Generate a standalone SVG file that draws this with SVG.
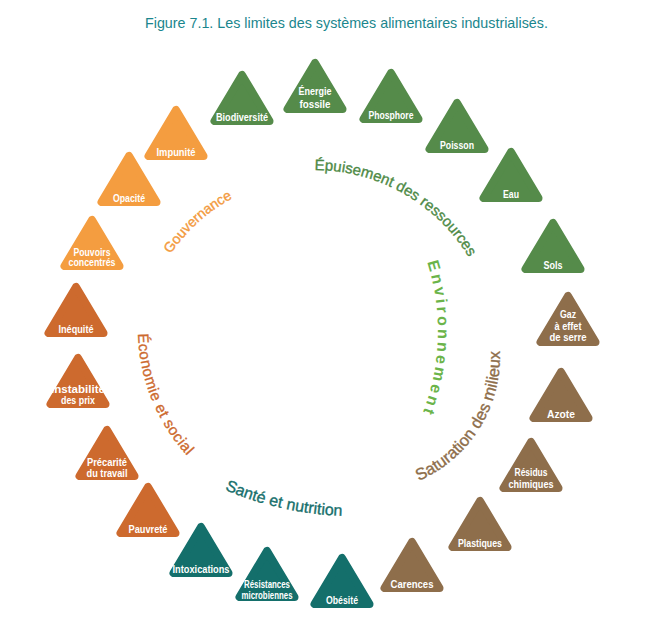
<svg xmlns="http://www.w3.org/2000/svg" width="649" height="631" viewBox="0 0 649 631">
<style>
.gov{fill:#F49D40;stroke:#F49D40}
.eco{fill:#CD6A2E;stroke:#CD6A2E}
.san{fill:#146F6B;stroke:#146F6B}
.env{fill:#558B4A;stroke:#558B4A}
.sat{fill:#8E6E4B;stroke:#8E6E4B}
.lbl{font-family:"Liberation Sans",Arial,sans-serif;font-weight:bold;font-size:11px;fill:#FFFFFF;text-anchor:middle}
.cat{font-family:"Liberation Sans",Arial,sans-serif;text-anchor:middle;stroke-width:0.35}
.title{font-family:"Liberation Sans",Arial,sans-serif;font-size:14.3px;fill:#1A868D}
</style>
<defs>
<polygon id="tri" points="0,5 -27.5,51 27.5,51" stroke-width="8" stroke-linejoin="round"/>
<path id="pGov" d="M151.4,291.8 A173,173 0 0 1 272.1,183.1"/>
<path id="pEpu" d="M281,173 A181,181 0 0 1 483.5,287.6"/>
<path id="pEco" d="M147.2,270.9 A188,188 0 0 0 237.7,495"/>
<path id="pSan" d="M202,479 A327,327 0 0 0 367.3,515.7"/>
<path id="pSat" d="M383.8,490.7 A135,135 0 0 0 493.4,315.3"/>
<path id="pEnv" d="M411.5,224.9 A226,226 0 0 1 403.7,450.8"/>
</defs>
<rect width="649" height="631" fill="#FFFFFF"/>
<text class="title" x="145" y="28">Figure 7.1. Les limites des systèmes alimentaires industrialisés.</text>

<g id="categories">
<text class="cat" font-size="14" fill="#F39A3D" stroke="#F39A3D"><textPath href="#pGov" startOffset="50%">Gouvernance</textPath></text>
<text class="cat" font-size="15" fill="#4E8A46" stroke="#4E8A46"><textPath href="#pEpu" startOffset="50%">Épuisement des ressources</textPath></text>
<text class="cat" font-size="15" fill="#CD6A2E" stroke="#CD6A2E" letter-spacing="0.5"><textPath href="#pEco" startOffset="50%">Économie et social</textPath></text>
<text class="cat" font-size="16" fill="#17706C" stroke="#17706C"><textPath href="#pSan" startOffset="50%">Santé et nutrition</textPath></text>
<text class="cat" font-size="16.5" fill="#8E6E4B" stroke="#8E6E4B"><textPath href="#pSat" startOffset="50%">Saturation des milieux</textPath></text>
<text class="cat" font-size="16" font-weight="bold" fill="#6BB44A" letter-spacing="3"><textPath href="#pEnv" startOffset="50%">Environnement</textPath></text>
</g>

<g id="connectors"></g>

<g id="biodiversite" transform="translate(242,70)"><use href="#tri" class="env"/><text class="lbl" y="51" textLength="52" lengthAdjust="spacingAndGlyphs">Biodiversité</text></g>
<g id="energie" transform="translate(315,58)"><use href="#tri" class="env"/><text class="lbl" y="37" textLength="33" lengthAdjust="spacingAndGlyphs">Énergie</text><text class="lbl" y="50" textLength="31" lengthAdjust="spacingAndGlyphs">fossile</text></g>
<g id="phosphore" transform="translate(391,68)"><use href="#tri" class="env"/><text class="lbl" y="51" textLength="45" lengthAdjust="spacingAndGlyphs">Phosphore</text></g>
<g id="poisson" transform="translate(457,98)"><use href="#tri" class="env"/><text class="lbl" y="51" textLength="34" lengthAdjust="spacingAndGlyphs">Poisson</text></g>
<g id="eau" transform="translate(511,147)"><use href="#tri" class="env"/><text class="lbl" y="51" textLength="16" lengthAdjust="spacingAndGlyphs">Eau</text></g>
<g id="sols" transform="translate(553,218)"><use href="#tri" class="env"/><text class="lbl" y="51" textLength="19" lengthAdjust="spacingAndGlyphs">Sols</text></g>

<g id="gaz" transform="translate(568,291)"><use href="#tri" class="sat"/><text class="lbl" y="27" textLength="16" lengthAdjust="spacingAndGlyphs">Gaz</text><text class="lbl" y="38.5" textLength="27" lengthAdjust="spacingAndGlyphs">à effet</text><text class="lbl" y="50" textLength="37" lengthAdjust="spacingAndGlyphs">de serre</text></g>
<g id="azote" transform="translate(561,367)"><use href="#tri" class="sat"/><text class="lbl" y="51" textLength="28" lengthAdjust="spacingAndGlyphs">Azote</text></g>
<g id="residus" transform="translate(531,437)"><use href="#tri" class="sat"/><text class="lbl" y="39" textLength="33" lengthAdjust="spacingAndGlyphs">Résidus</text><text class="lbl" y="50.5" textLength="45" lengthAdjust="spacingAndGlyphs">chimiques</text></g>
<g id="plastiques" transform="translate(480,496)"><use href="#tri" class="sat"/><text class="lbl" y="51" textLength="44" lengthAdjust="spacingAndGlyphs">Plastiques</text></g>
<g id="carences" transform="translate(412,537)"><use href="#tri" class="sat"/><text class="lbl" y="51" textLength="43" lengthAdjust="spacingAndGlyphs">Carences</text></g>

<g id="obesite" transform="translate(342,553)"><use href="#tri" class="san"/><text class="lbl" y="51" textLength="32" lengthAdjust="spacingAndGlyphs">Obésité</text></g>
<g id="resistances" transform="translate(267,546)"><use href="#tri" class="san"/><text class="lbl" y="42" font-size="9.5" textLength="46" lengthAdjust="spacingAndGlyphs">Résistances</text><text class="lbl" y="52.5" font-size="9.5" textLength="51" lengthAdjust="spacingAndGlyphs">microbiennes</text></g>
<g id="intoxications" transform="translate(201,522)"><use href="#tri" class="san"/><text class="lbl" y="51" textLength="57" lengthAdjust="spacingAndGlyphs">Intoxications</text></g>

<g id="pauvrete" transform="translate(148,482)"><use href="#tri" class="eco"/><text class="lbl" y="51" textLength="39" lengthAdjust="spacingAndGlyphs">Pauvreté</text></g>
<g id="precarite" transform="translate(107,425)"><use href="#tri" class="eco"/><text class="lbl" y="41" textLength="40" lengthAdjust="spacingAndGlyphs">Précarité</text><text class="lbl" y="52" textLength="41" lengthAdjust="spacingAndGlyphs">du travail</text></g>
<g id="instabilite" transform="translate(78,353)"><use href="#tri" class="eco"/><text class="lbl" y="40" textLength="54" lengthAdjust="spacingAndGlyphs">Instabilité</text><text class="lbl" y="50.5" textLength="34" lengthAdjust="spacingAndGlyphs">des prix</text></g>
<g id="inequite" transform="translate(76,282)"><use href="#tri" class="eco"/><text class="lbl" y="51" textLength="35" lengthAdjust="spacingAndGlyphs">Inéquité</text></g>

<g id="pouvoirs" transform="translate(92,215)"><use href="#tri" class="gov"/><text class="lbl" y="40.5" textLength="37" lengthAdjust="spacingAndGlyphs">Pouvoirs</text><text class="lbl" y="51" textLength="47" lengthAdjust="spacingAndGlyphs">concentrés</text></g>
<g id="opacite" transform="translate(129,151)"><use href="#tri" class="gov"/><text class="lbl" y="51" textLength="32" lengthAdjust="spacingAndGlyphs">Opacité</text></g>
<g id="impunite" transform="translate(176,105)"><use href="#tri" class="gov"/><text class="lbl" y="51" textLength="39" lengthAdjust="spacingAndGlyphs">Impunité</text></g>
</svg>
